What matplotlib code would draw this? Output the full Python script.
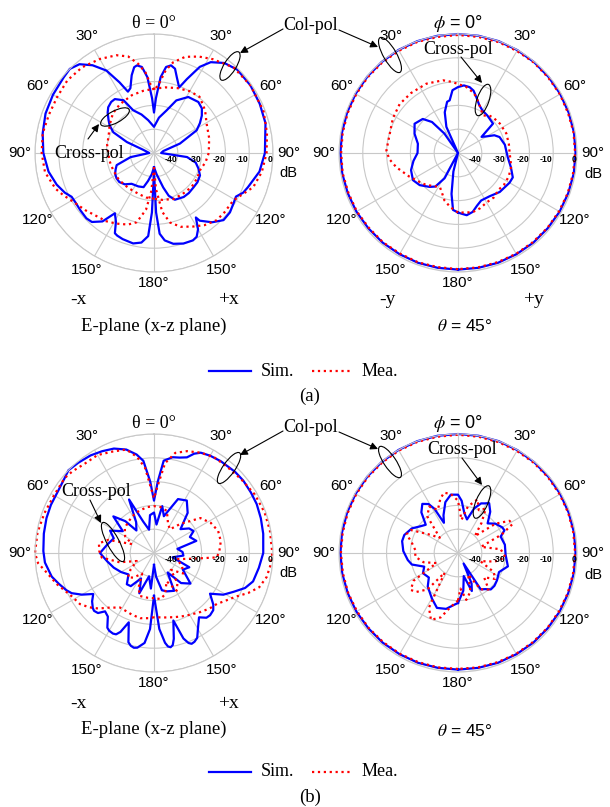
import numpy as np
import matplotlib
matplotlib.use('Agg')
import matplotlib.pyplot as plt
from matplotlib.patches import Ellipse

plt.rcParams['font.family'] = ['Liberation Sans', 'DejaVu Sans']
SERIF = ['Liberation Serif', 'DejaVu Serif']
BLUE = '#0000ff'
RED = '#ff0000'
GRID = '#c8c8c8'

W, H = 610, 807
fig = plt.figure(figsize=(W / 100, H / 100), dpi=100)

# ---------------- data: (angle deg, level dB) ----------------
# (a) E-plane
a_e_sim_co = [(-180, -42), (-178, -25), (-176, -15), (-172, -12), (-167, -11), (-160, -11.5), (-156, -12),
              (-154, -12.5), (-151, -17), (-147, -19.8), (-143, -14), (-138, -11), (-134, -10.5), (-128, -10.8),
              (-122, -11), (-118, -10.8), (-114, -9), (-108, -7), (-100, -5), (-90, -3.5), (-80, -2.5), (-70, -1.5),
              (-60, -1), (-50, -0.5), (-45, 0), (-40, -1.3), (-35, -5), (-30, -10), (-26, -17), (-23, -22),
              (-20, -21), (-16, -16), (-13, -13), (-11, -12.5), (-8, -13.5), (-5, -18), (-2, -27), (0, -33),
              (2, -27), (5, -18), (8, -13.5), (11, -12.5), (14, -13.5), (17, -17), (21, -20.5), (24, -16),
              (28, -9), (32, -5), (38, -2), (45, -0.5), (55, -0.5), (65, -1), (75, -1.5), (90, -3.4), (100, -5),
              (110, -8), (114, -9), (118, -11), (122, -10.5), (128, -9.5), (134, -9.4), (140, -12), (146, -15.7),
              (147, -17.7), (150, -13), (153, -10.5), (156, -9.8), (162, -10), (168, -11), (173, -13), (176, -16),
              (178, -25), (180, -42)]
a_e_mea_co = [(-180, -44), (-176, -34), (-172, -26), (-166, -20), (-160, -18), (-152, -16.4), (-145, -15),
              (-140, -14.5), (-130, -12.5), (-120, -10), (-115, -8), (-110, -6), (-100, -3.5), (-90, -2.8),
              (-80, -2.5), (-70, -3), (-60, -3), (-50, -2.5), (-40, -3), (-30, -4.4), (-21, -6), (-15, -8),
              (-10, -12), (-6, -16), (-3, -21), (0, -23.7), (4, -21), (8, -15), (12, -11), (18, -7.5), (25, -5.3),
              (32, -3.5), (43, -0.9), (55, -0.5), (69, -0.7), (80, -1.8), (90, -2.7), (100, -4), (109, -5.9),
              (121, -11.2), (130, -11.3), (137, -11.4), (145, -13), (152, -15), (160, -17), (167, -20), (172, -25),
              (177, -35), (180, -44)]
a_e_sim_x = [(-180, -44), (-174, -41), (-168, -38), (-163, -35), (-155, -34.5), (-144, -34), (-137, -32),
             (-130, -31), (-124, -31), (-118, -31.5), (-113, -32.5), (-108, -33.5), (-100, -40), (-90, -48),
             (-80, -47), (-73, -45), (-68, -37.7), (-63, -30.8), (-58, -28), (-54, -26.4), (-49, -24.2),
             (-45, -22.8), (-40, -22), (-36, -22), (-30, -24.4), (-26, -30), (-18, -33), (-10, -36), (0, -39),
             (8, -35), (16.5, -31.3), (23, -26), (31.5, -22.4), (41, -21.6), (47, -22.5), (52, -24.5), (57, -27),
             (62, -29.7), (70, -38.4), (78, -46), (90, -47), (97, -36), (103, -32), (109, -30.3), (116, -28.5),
             (124, -28), (131, -28), (139, -27.7), (146, -27.7), (156, -28.5), (161, -31), (165, -35), (173, -41),
             (180, -44)]
a_e_mea_x = [(-180, -30.8), (-170, -31), (-160, -31.6), (-145, -31.8), (-135, -31.7), (-125, -31.5), (-113, -31.4),
             (-100, -31), (-90, -30.8), (-80, -30), (-70, -29.7), (-58, -28), (-46, -26), (-35, -25), (-21, -24),
             (-10, -23.5), (0, -23), (10, -22), (20, -21), (30, -20), (39, -19.6), (50, -22), (61, -24.7), (75, -26),
             (90, -27), (100, -28), (111, -29.4), (120, -29), (132, -28.7), (145, -29), (157, -29), (170, -30),
             (180, -30.8)]
# (a) conical cut theta = 45 deg
a_c_sim_co = [(-180, -1.0), (-170, -1.0), (-160, -0.9), (-150, -0.9), (-140, -0.8), (-130, -0.8), (-120, -0.7),
              (-110, -0.7), (-100, -0.6), (-90, -0.6), (-80, -0.5), (-70, -0.4), (-60, -0.3), (-50, -0.2),
              (-40, -0.1), (-30, 0), (-20, 0), (-10, 0), (0, 0), (10, 0), (20, 0), (30, -0.1), (40, -0.2),
              (50, -0.3), (60, -0.4), (70, -0.5), (80, -0.5), (90, -0.6), (100, -0.6), (110, -0.7), (120, -0.7),
              (130, -0.8), (140, -0.8), (150, -0.9), (160, -0.9), (170, -1.0), (180, -1.0)]
a_c_mea_co = [(-180, -1.2), (-170, -1.3), (-160, -1.1), (-150, -1.2), (-140, -1.0), (-130, -1.1), (-120, -0.9),
              (-110, -1.0), (-100, -0.8), (-90, -0.9), (-80, -0.8), (-70, -0.7), (-60, -0.6), (-50, -0.5),
              (-40, -0.4), (-30, -0.4), (-20, -0.3), (-10, -0.5), (0, -0.4), (10, -0.5), (20, -0.4), (30, -0.5),
              (40, -0.4), (50, -0.6), (60, -0.6), (70, -0.8), (80, -0.7), (90, -0.8), (100, -0.9), (110, -0.9),
              (120, -1.0), (130, -1.0), (140, -1.1), (150, -1.1), (160, -1.2), (170, -1.2), (180, -1.2)]
a_c_sim_x = [(-180, -25), (-175, -26), (-171, -32.6), (-166, -42), (-160, -50), (-152, -38), (-146, -33),
             (-140, -31.4), (-130, -29), (-121, -27.9), (-110, -29), (-100, -31), (-90, -33), (-77, -32.7),
             (-66, -30), (-56, -28), (-46, -29.4), (-40, -33), (-35, -40), (-30, -50), (-24, -38), (-18, -32),
             (-12, -28), (-9, -27.6), (-5, -23.5), (0, -22.3), (5, -21.5), (10, -21.9), (14, -23), (18, -25.2),
             (24, -28), (30, -29.4), (38, -30), (44, -30.5), (50, -30.8), (55.6, -38), (60, -36), (64, -33),
             (69, -31.3), (80, -30), (95, -29), (105, -27), (114, -24.8), (120, -25), (133, -26), (144, -27.5),
             (154, -27.8), (160, -26.5), (166, -24.5), (172, -23.6), (177, -24.5), (180, -25)]
a_c_mea_x = [(-180, -25), (-172, -27), (-164, -29.3), (-158, -32), (-152, -33.8), (-145, -33), (-135, -31),
             (-127, -29.8), (-116, -27.3), (-103, -23.4), (-95, -21), (-88, -19.9), (-74, -20.2), (-62, -19),
             (-50, -18), (-38, -18), (-24.5, -18), (-11.7, -18.8), (-5, -20), (0, -21), (7, -22), (15, -24),
             (22, -27), (30, -30), (34, -31), (40, -29.5), (45, -29), (55, -28.5), (68, -28.1), (80, -28.3),
             (90, -28.3), (100, -27.5), (105, -26.9), (115, -26.5), (125, -26.5), (132, -27), (141, -26),
             (150, -26), (158, -25), (166, -24.4), (173, -24.8), (180, -25)]
# (b) E-plane
b_e_sim_co = [(-180, -32), (-177, -18), (-174, -12), (-170, -9.6), (-168, -9.3), (-166, -9.8), (-164, -11),
              (-160, -19), (-157, -14), (-155, -12.3), (-153, -12), (-150, -12.3), (-148, -13), (-144, -17),
              (-140, -18), (-137, -15.5), (-134, -15), (-132, -15.4), (-128, -17), (-124, -19.2), (-120, -15),
              (-116, -11.5), (-113, -10), (-108, -8), (-103, -5.9), (-95, -4), (-89, -3.5), (-80, -3), (-72, -2.5),
              (-65, -2.2), (-57, -2), (-50, -1), (-46, 0), (-40, -0.5), (-33, -1.1), (-27, -2), (-21, -3),
              (-15, -5), (-10, -8), (-6.6, -11), (-3, -20), (0, -28), (3, -20), (6, -11), (11, -9), (15, -8.5),
              (19, -7.5), (22, -5), (25, -3.5), (30, -2.8), (36, -2.3), (45, -1.8), (51, -1.7), (58, -2),
              (64.5, -2.2), (72, -2.8), (80, -3.4), (90, -4.1), (98, -5.5), (106, -6.7), (111, -9), (116, -12.8),
              (121, -16), (126, -20.9), (131, -17), (134, -15.4), (138, -14.8), (141, -15), (145, -17), (149, -14),
              (153, -10), (155.5, -9), (157.5, -8.7), (159, -9.5), (161, -12), (164, -20.5), (167, -13),
              (168.5, -10.5), (170, -9.8), (171.5, -10.3), (173, -12), (176, -18), (180, -32)]
b_e_mea_co = [(-180, -23), (-175, -22.5), (-168, -22), (-160, -22.5), (-152, -23), (-148, -23), (-140, -20),
              (-135, -17), (-130, -14.5), (-124.6, -12.2), (-118, -11), (-112, -9), (-107.7, -7.1), (-100, -4),
              (-95, -1.1), (-90, 0), (-80, -0.3), (-70, -1), (-60, -1.5), (-50, -1), (-45, -1.5), (-38, -2.5),
              (-30, -2.5), (-22, -4), (-15, -5), (-10, -9), (-6, -14), (-3, -22), (0, -27), (3, -22), (7, -12),
              (12, -7), (18, -5), (25, -3.5), (32, -2.5), (40, -2.5), (50, -2), (60, -1), (70, -0.5), (79, -0.4),
              (90, -0.3), (96, -0.8), (102, -1.6), (108, -3.5), (113, -7), (118, -11), (124, -14), (129, -16),
              (135, -17), (142, -18.5), (150, -20), (157, -21), (163, -21.8), (170, -22.5), (180, -23)]
b_e_sim_x = [(-180, -45), (-175, -35), (-168, -40), (-160, -32), (-153, -38), (-145, -33), (-139, -32.6),
             (-130, -36), (-120, -34), (-110, -32), (-100, -30), (-90, -27.3), (-80, -30), (-70, -32), (-63, -29.3),
             (-55, -34), (-48, -27), (-42, -32), (-38, -38), (-30, -35), (-25, -25.2), (-19, -36), (-12, -40),
             (-6, -34), (0, -33), (5, -38), (10, -30), (15, -34), (24, -25.2), (32, -24), (40, -28), (48, -35),
             (55, -32), (61, -31), (66, -33.5), (74, -31.5), (80, -40), (88, -38), (95, -37.6), (103, -42),
             (112, -34), (120, -36), (130, -30), (138, -33), (145, -40), (152, -32), (161.5, -33), (168, -34),
             (175, -40), (180, -45)]
b_e_mea_x = [(-180, -31), (-172, -31), (-162, -31), (-156, -34), (-150, -40), (-140, -36.5), (-133, -35),
             (-125, -38), (-115, -42), (-105, -35), (-95, -28), (-88, -27), (-80, -26.5), (-74, -30), (-68, -40),
             (-60, -36), (-50, -34), (-40, -33), (-25, -31.5), (-15, -31), (-8, -30.5), (0, -30.3), (8, -30.5),
             (17, -31.5), (26, -36.5), (34, -38), (42, -33.6), (53, -25.6), (62, -23), (71, -21.5), (80, -21.5),
             (88, -22.5), (94, -23.5), (98, -33), (105, -40), (115, -37), (125, -35), (135, -40), (142, -34),
             (149, -31.5), (156, -37), (165, -32), (172, -30.5), (180, -31)]
# (b) conical cut theta = 45 deg
b_c_sim_co = [(-180, -1.0), (-170, -1.0), (-160, -0.9), (-150, -0.9), (-140, -0.8), (-130, -0.8), (-120, -0.7),
              (-110, -0.7), (-100, -0.6), (-90, -0.6), (-80, -0.5), (-70, -0.4), (-60, -0.3), (-50, -0.2),
              (-40, -0.1), (-30, 0), (-20, 0), (-10, 0), (0, 0), (10, 0), (20, 0), (30, -0.1), (40, -0.2),
              (50, -0.3), (60, -0.4), (70, -0.5), (80, -0.5), (90, -0.6), (100, -0.6), (110, -0.7), (120, -0.7),
              (130, -0.8), (140, -0.8), (150, -0.9), (160, -0.9), (170, -1.0), (180, -1.0)]
b_c_mea_co = [(-180, -1.3), (-170, -1.2), (-160, -1.2), (-150, -1.1), (-140, -1.1), (-130, -1.0), (-120, -1.0),
              (-110, -0.9), (-100, -0.9), (-90, -0.8), (-80, -0.8), (-70, -0.7), (-60, -0.6), (-50, -0.5),
              (-40, -0.4), (-30, -0.3), (-20, -0.3), (-10, -0.4), (0, -0.3), (10, -0.4), (20, -0.4), (30, -0.5),
              (40, -0.5), (50, -0.6), (60, -0.7), (70, -0.7), (80, -0.8), (90, -0.8), (100, -0.9), (110, -0.9),
              (120, -1.0), (130, -1.0), (140, -1.1), (150, -1.1), (160, -1.2), (170, -1.2), (180, -1.3)]
b_c_sim_x = [(-180, -29), (-175, -28), (-168, -26), (-159, -25.3), (-150, -28), (-138, -31), (-130, -34),
             (-120, -33), (-112, -34.7), (-104, -30), (-98, -28.7), (-88, -27), (-78, -26), (-71.5, -26.2),
             (-62, -28), (-55, -30.5), (-48.8, -32), (-42, -27), (-36, -24.5), (-31, -26), (-28, -29), (-25, -36),
             (-21, -33), (-14, -28), (-7, -25.3), (0, -25.5), (4, -28), (9, -33), (15, -35.4), (20, -30),
             (25, -27), (28, -26.4), (32, -25.3), (38, -28), (45, -32.4), (52, -30), (60, -28.5), (64, -28.3),
             (69, -30.8), (80, -30), (92, -30), (105, -28.3), (115, -31), (125, -30), (132, -29.4), (138, -29.4),
             (143, -31), (148, -32), (152, -45), (156, -36), (160, -33), (166, -40), (172, -34), (180, -29)]
b_c_mea_x = [(-180, -30), (-172, -27), (-165, -22), (-158, -19.7), (-152, -24), (-146, -40), (-140, -30),
             (-133, -26), (-128, -24.8), (-122, -28), (-115, -40), (-105, -35), (-95, -32), (-86, -32), (-77, -30),
             (-70, -27), (-64, -28), (-58, -35), (-50, -40), (-40, -30), (-32, -27), (-25, -30), (-18, -26),
             (-13, -24), (-7, -25), (0, -28), (6, -36), (12, -30), (20, -26), (26, -30), (32, -28), (38, -34),
             (45, -40), (52, -30), (58, -24.5), (62, -24), (67, -30), (75, -40), (85, -32), (95, -30), (103, -34),
             (110, -40), (118, -33), (125, -31), (133, -35), (140, -30), (148, -32), (155, -40), (162, -33),
             (170, -30), (176, -35), (180, -30)]

ring_levels = [-40, -30, -20, -10, 0]
angle_ticks = list(range(0, 360, 30))

# ---------------- panels ----------------
R = 119


def panel(cx, cy, sim_co, mea_co, sim_x, mea_x, top_label, top_kw):
    ax = fig.add_axes([(cx - R) / W, (H - cy - R) / H, 2 * R / W, 2 * R / H], projection='polar')
    ax.set_theta_zero_location('N')
    ax.set_theta_direction(-1)
    ax.set_rlim(-50, 0)
    ax.set_rticks(ring_levels)
    ax.set_yticklabels([])
    ax.set_xticks(np.deg2rad(angle_ticks))
    ax.set_xticklabels([])
    ax.grid(True, color=GRID, lw=0.8)
    ax.spines['polar'].set_color(GRID)
    ax.spines['polar'].set_linewidth(0.8)
    for data, col, ls in [(sim_co, BLUE, '-'), (sim_x, BLUE, '-'), (mea_co, RED, ':'), (mea_x, RED, ':')]:
        a = np.deg2rad([p[0] for p in data])
        v = [p[1] for p in data]
        ax.plot(a, v, color=col, ls=ls, lw=1.6, clip_on=False)
    for t in angle_ticks[1:]:
        lab = t if t <= 180 else 360 - t
        r = 4.8 if t == 180 else 6.6
        ax.text(np.deg2rad(t), r, f'{lab}°', ha='center', va='center', fontsize=11)
    for lv in ring_levels:
        ax.annotate(f'{lv}', xy=(np.pi / 2, lv), xytext=(-0.3, -1.2), textcoords='offset points',
                    ha='right', va='top', fontsize=6.3, fontweight='bold')
    ax.text(0, 4.6, top_label, ha='center', va='center', **top_kw)
    return ax


panel(154, 153, a_e_sim_co, a_e_mea_co, a_e_sim_x, a_e_mea_x, 'θ = 0°', dict(family=SERIF, fontsize=13))
panel(458, 153, a_c_sim_co, a_c_mea_co, a_c_sim_x, a_c_mea_x, r'$\phi$ = 0°',
      dict(fontsize=13, math_fontfamily='stix'))
panel(154, 553, b_e_sim_co, b_e_mea_co, b_e_sim_x, b_e_mea_x, 'θ = 0°', dict(family=SERIF, fontsize=13))
panel(458, 553, b_c_sim_co, b_c_mea_co, b_c_sim_x, b_c_mea_x, r'$\phi$ = 0°',
      dict(fontsize=13, math_fontfamily='stix'))

# ---------------- overlay for annotations ----------------
ov = fig.add_axes([0, 0, 1, 1])
ov.set_xlim(0, W)
ov.set_ylim(H, 0)
ov.axis('off')
ov.patch.set_alpha(0)

tkw = dict(family=SERIF, ha='center', va='center')
for (x, y, s) in [(78, 300, '-x'), (228, 300, '+x'), (387, 299, '-y'), (533, 300, '+y'),
                  (78, 703, '-x'), (228, 703, '+x')]:
    ov.text(x, y, s, fontsize=14, **tkw)
ov.text(154, 326, 'E-plane (x-z plane)', fontsize=13.5, **tkw)
ov.text(154, 729, 'E-plane (x-z plane)', fontsize=13.5, **tkw)
ov.text(465, 326, r'$\theta$ = 45°', fontsize=12.5, ha='center', va='center', math_fontfamily='stix')
ov.text(465, 731, r'$\theta$ = 45°', fontsize=12.5, ha='center', va='center', math_fontfamily='stix')
for (x, y) in [(288, 173), (593, 174), (288, 573), (593, 575)]:
    ov.text(x, y, 'dB', fontsize=10.5, ha='center', va='center')

# legends
for ly, cap, capy in [(371, '(a)', 396), (772, '(b)', 797)]:
    ov.plot([209, 251], [ly, ly], color=BLUE, lw=1.6)
    ov.text(261, ly, 'Sim.', fontsize=13, family=SERIF, ha='left', va='center')
    ov.plot([312, 351], [ly, ly], color=RED, lw=1.6, ls=':')
    ov.text(362, ly, 'Mea.', fontsize=13, family=SERIF, ha='left', va='center')
    ov.text(310, capy, cap, fontsize=13.5, **tkw)

# Col-pol / Cross-pol callouts
akw = dict(arrowstyle='-|>', color='k', lw=0.8, mutation_scale=11, shrinkA=0, shrinkB=0)
ekw = dict(fill=False, ec='k', lw=0.8)
for dy in [0, 402]:
    ov.text(311, 26 + dy, 'Col-pol', fontsize=13, **tkw)
    ov.annotate('', xy=(240, 53 + dy), xytext=(283, 29 + dy), arrowprops=akw)
    ov.annotate('', xy=(378, 47 + dy), xytext=(339, 30 + dy), arrowprops=akw)
ov.add_patch(Ellipse((230, 66), 33, 12, angle=-58, **ekw))
ov.add_patch(Ellipse((390, 55), 40, 13, angle=60, **ekw))
ov.add_patch(Ellipse((229, 468), 37, 12, angle=-55, **ekw))
ov.add_patch(Ellipse((390, 462), 37, 12, angle=56, **ekw))

ov.text(89, 153, 'Cross-pol', fontsize=13, **tkw)
ov.annotate('', xy=(99, 124), xytext=(88, 139), arrowprops=akw)
ov.add_patch(Ellipse((115, 117), 32, 12, angle=-28, **ekw))

ov.text(458, 50, 'Cross-pol', fontsize=13, **tkw)
ov.annotate('', xy=(482, 83), xytext=(461, 57), arrowprops=akw)
ov.add_patch(Ellipse((483, 100), 33, 12, angle=-71, **ekw))

ov.text(96, 492, 'Cross-pol', fontsize=13, **tkw)
ov.annotate('', xy=(101, 523), xytext=(90, 500), arrowprops=akw)
ov.add_patch(Ellipse((113, 542), 44, 12, angle=62, **ekw))

ov.text(462, 450, 'Cross-pol', fontsize=13, **tkw)
ov.annotate('', xy=(482, 485), xytext=(462, 458), arrowprops=akw)
ov.add_patch(Ellipse((482, 502), 35, 12, angle=-67, **ekw))

fig.savefig('out.png', dpi=100)
